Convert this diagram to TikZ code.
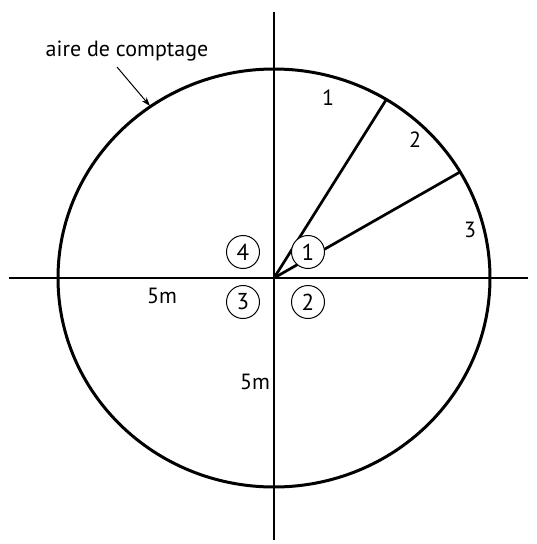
\documentclass[tikz,border=0pt]{standalone}
\usepackage{fontspec}
\setmainfont{PT Sans}
\usetikzlibrary{arrows.meta}
\begin{document}
\begin{tikzpicture}[x=1pt,y=-1pt,
  axis/.style={line width=2.5pt},
  rim/.style={line width=3pt},
  ray/.style={line width=2.7pt},
  lbl/.style={font=\fontsize{22}{24}\selectfont, inner sep=0pt},
  zone/.style={circle, draw, line width=1pt, fill=white, minimum size=33pt, inner sep=0pt, font=\fontsize{23}{24}\selectfont}]
\useasboundingbox (0,0) rectangle (536,544);
\coordinate (O) at (274,278);
\coordinate (L) at (9,278);
\coordinate (R) at (528,278);
\coordinate (T) at (274,12);
\coordinate (B) at (274,540);
\draw[rim] (O) ellipse [x radius=216, y radius=209];
\draw[axis] (L) -- (R);
\draw[axis] (T) -- (B);
\coordinate (P1) at (386,100);
\coordinate (P2) at (460,172);
\draw[ray] (O) -- (P1);
\draw[ray] (O) -- (P2);
\node[lbl] (s1) at (328,98) {1};
\node[lbl] (s2) at (415,140) {2};
\node[lbl] (s3) at (470,230) {3};
\node[zone] (z4) at (243,252) {4};
\node[zone] (z1) at (308,252) {1};
\node[zone] (z3) at (243,302) {3};
\node[zone] (z2) at (308,302) {2};
\node[lbl] (m1) at (162,296) {5m};
\node[lbl] (m2) at (255,382) {5m};
\node[lbl] (area) at (127,51) {aire de comptage};
\coordinate (tip) at (150,106);
\coordinate (tail) at (117,67);
\draw[line width=1pt,-{Stealth[length=9pt,width=6pt]}] (tail) -- (tip);
\end{tikzpicture}
\end{document}
